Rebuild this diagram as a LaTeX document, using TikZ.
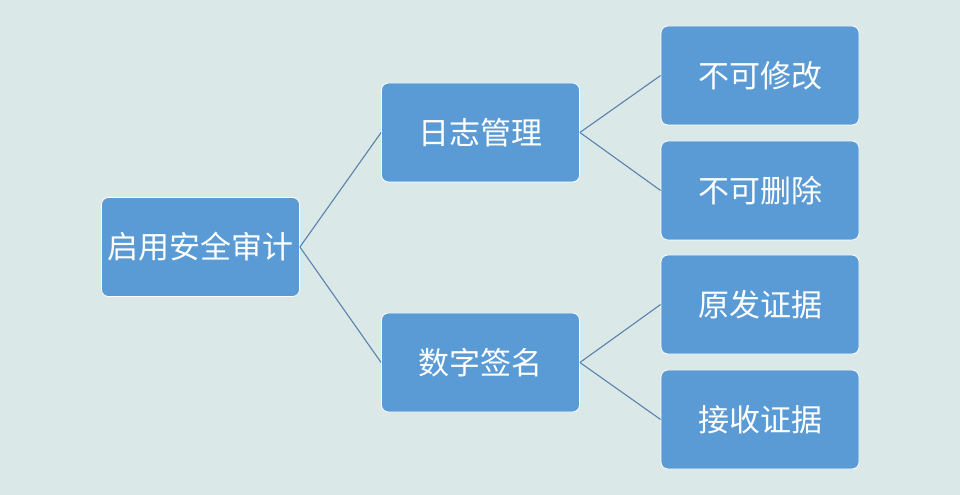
\documentclass[tikz,border=0pt]{standalone}
\usepackage{fontspec}
\newfontfamily\cjk{Noto Sans CJK SC}
\definecolor{bgc}{HTML}{DAE8E8}
\definecolor{boxc}{HTML}{5B9BD5}
\definecolor{linec}{HTML}{5A82AA}
\tikzset{
  box/.style={draw=white, line width=0.8bp, fill=boxc, rounded corners=7bp,
    minimum width=198bp, minimum height=99bp, inner sep=0pt, text=white,
    font=\cjk\fontsize{31bp}{36bp}\selectfont},
  conn/.style={draw=linec, line width=1.1bp}
}
\begin{document}
\begin{tikzpicture}[x=1bp,y=-1bp]
\fill[bgc] (0,0) rectangle (960,495);
\useasboundingbox (0,0) rectangle (960,495);
\node[box] (root) at (200.5,247) {启用安全审计};
\node[box] (log) at (480.5,132.5) {日志管理};
\node[box] (sig) at (480.5,362.5) {数字签名};
\node[box] (l1) at (760,75.5) {不可修改};
\node[box] (l2) at (760,190.5) {不可删除};
\node[box] (l3) at (760,304.5) {原发证据};
\node[box] (l4) at (760,419.5) {接收证据};
\draw[conn] (root.east) -- (log.west);
\draw[conn] (root.east) -- (sig.west);
\draw[conn] (log.east) -- (l1.west);
\draw[conn] (log.east) -- (l2.west);
\draw[conn] (sig.east) -- (l3.west);
\draw[conn] (sig.east) -- (l4.west);
\end{tikzpicture}
\end{document}
